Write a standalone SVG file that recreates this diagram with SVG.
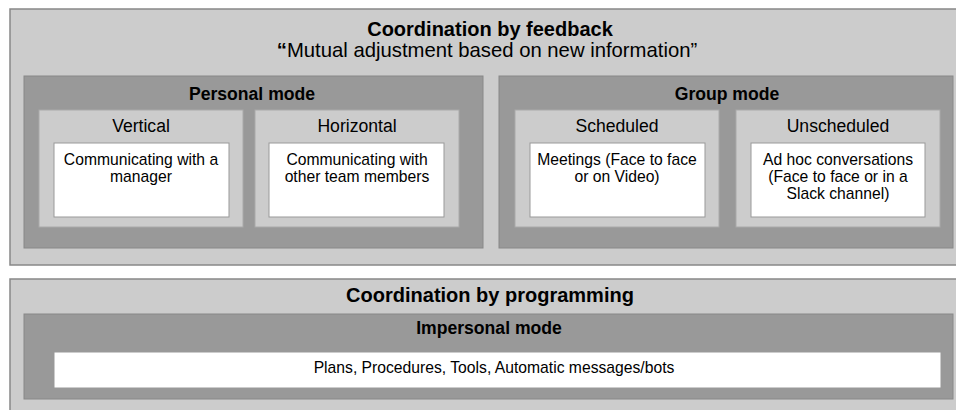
<svg xmlns="http://www.w3.org/2000/svg" width="956" height="410" viewBox="0 0 956 410">
<style>
.l1{fill:#cccccc;stroke:#888888;stroke-width:1.5}
.l2{fill:#999999;stroke:#888888;stroke-width:1}
.l3{fill:#cccccc;stroke:#aaaaaa;stroke-width:1}
.w{fill:#ffffff;stroke:#999999;stroke-width:1}
text{font-family:"Liberation Sans",Arial,sans-serif;fill:#000;text-anchor:middle}
.t1{font-size:20px;font-weight:bold}
.q{font-size:20.3px}
.t2{font-size:17.6px;font-weight:bold}
.t3{font-size:17.6px}
.t4{font-size:15.7px}
</style>
<rect width="956" height="410" fill="#ffffff"/>
<g id="feedback">
<rect class="l1" x="10" y="9" width="960" height="256"/>
<text class="t1" x="490" y="36">Coordination by feedback</text>
<text class="q" x="487" y="57"><tspan font-weight="bold">“</tspan>Mutual adjustment based on new information”</text>
</g>
<g id="personal">
<rect class="l2" x="24" y="76" width="459" height="172"/>
<text class="t2" x="252" y="100">Personal mode</text>
</g>
<g id="vertical">
<rect class="l3" x="39" y="110" width="204" height="117"/>
<text class="t3" x="141" y="132">Vertical</text>
<rect class="w" x="54" y="143" width="175" height="74"/>
<text class="t4" x="141" y="165">Communicating with a</text>
<text class="t4" x="141" y="182">manager</text>
</g>
<g id="horizontal">
<rect class="l3" x="255" y="110" width="204" height="117"/>
<text class="t3" x="357" y="132">Horizontal</text>
<rect class="w" x="269" y="143" width="175" height="74"/>
<text class="t4" x="357" y="165">Communicating with</text>
<text class="t4" x="357" y="182">other team members</text>
</g>
<g id="group">
<rect class="l2" x="499" y="76" width="454" height="172"/>
<text class="t2" x="727" y="100">Group mode</text>
</g>
<g id="scheduled">
<rect class="l3" x="515" y="110" width="204" height="117"/>
<text class="t3" x="617" y="132">Scheduled</text>
<rect class="w" x="530" y="143" width="175" height="74"/>
<text class="t4" x="617" y="165">Meetings (Face to face</text>
<text class="t4" x="617" y="182">or on Video)</text>
</g>
<g id="unscheduled">
<rect class="l3" x="736" y="110" width="204" height="117"/>
<text class="t3" x="838" y="132">Unscheduled</text>
<rect class="w" x="751" y="143" width="174" height="74"/>
<text class="t4" x="838" y="165">Ad hoc conversations</text>
<text class="t4" x="838" y="182">(Face to face or in a</text>
<text class="t4" x="838" y="199">Slack channel)</text>
</g>
<g id="programming">
<rect class="l1" x="10" y="279" width="960" height="140"/>
<text class="t1" x="490" y="302">Coordination by programming</text>
</g>
<g id="impersonal">
<rect class="l2" x="24" y="314" width="929" height="85"/>
<text class="t2" x="489" y="334">Impersonal mode</text>
<rect class="w" x="54" y="352" width="887" height="36"/>
<text class="t4" x="494" y="373">Plans, Procedures, Tools, Automatic messages/bots</text>
</g>
<g id="connectors"/>
</svg>
